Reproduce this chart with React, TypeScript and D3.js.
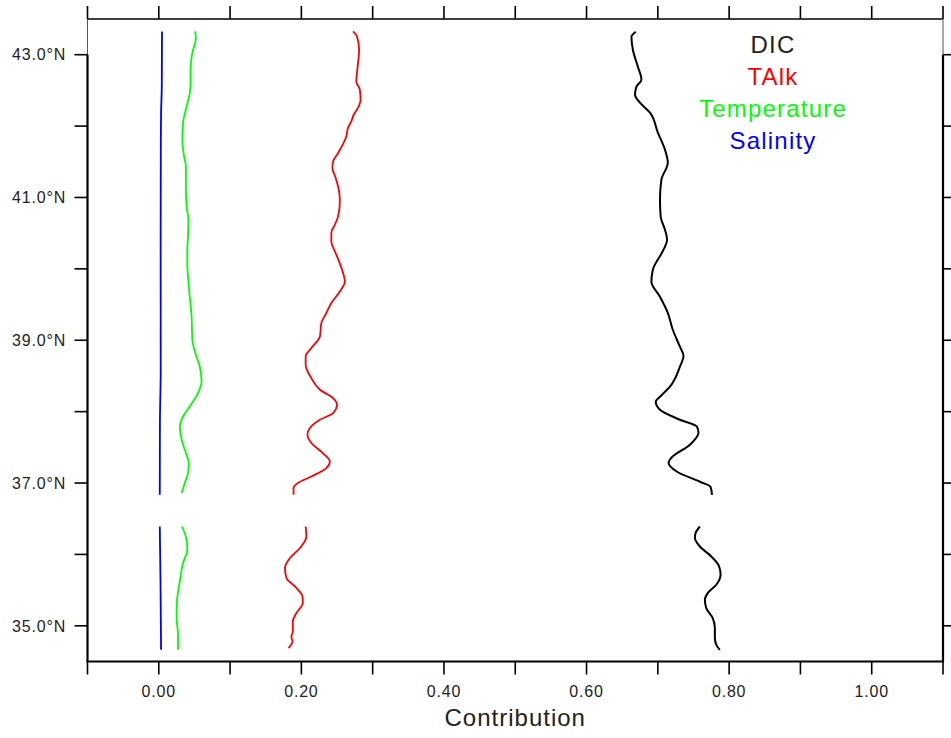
import React from "react";
import * as d3 from "d3";

// latitude (°N) and contribution values; NaN separates the two segments
const dicLat = [43.322, 43.252, 43.07, 42.832, 42.65, 42.552, 42.44, 42.327, 42.187, 41.907, 41.669, 41.487, 41.249, 40.968, 40.73, 40.548, 40.408, 40.268, 39.988, 39.82, 39.61, 39.385, 39.147, 38.909, 38.783, 38.629, 38.349, 38.208, 38.138, 38.026, 37.886, 37.788, 37.704, 37.536, 37.354, 37.284, 37.158, 37.018, 36.947, 36.835,
  NaN,
  36.391, 36.299, 36.229, 36.111, 35.971, 35.831, 35.715, 35.575, 35.458, 35.364, 35.248, 35.108, 34.968, 34.828, 34.734, 34.664];
const dicVal = [0.669, 0.663, 0.665, 0.672, 0.677, 0.67, 0.668, 0.675, 0.689, 0.7, 0.71, 0.714, 0.705, 0.703, 0.704, 0.71, 0.713, 0.708, 0.693, 0.691, 0.703, 0.714, 0.721, 0.731, 0.736, 0.731, 0.717, 0.703, 0.697, 0.703, 0.731, 0.755, 0.757, 0.745, 0.719, 0.715, 0.727, 0.759, 0.774, 0.776,
  NaN,
  0.759, 0.753, 0.752, 0.759, 0.775, 0.786, 0.788, 0.782, 0.77, 0.766, 0.768, 0.777, 0.78, 0.78, 0.782, 0.787];

const talkLat = [43.326, 43.256, 43.07, 42.836, 42.626, 42.51, 42.37, 42.257, 42.159, 42.066, 41.977, 41.855, 41.739, 41.623, 41.505, 41.417, 41.277, 41.109, 40.945, 40.735, 40.618, 40.506, 40.384, 40.268, 40.138, 39.942, 39.824, 39.684, 39.521, 39.381, 39.241, 39.053, 38.891, 38.773, 38.657, 38.47, 38.307, 38.19, 38.096, 37.98, 37.886, 37.77, 37.676, 37.56, 37.42, 37.302, 37.209, 37.092, 36.999, 36.929, 36.835,
  NaN,
  36.391, 36.251, 36.089, 35.949, 35.809, 35.668, 35.551, 35.411, 35.318, 35.178, 35.06, 34.92, 34.85, 34.78, 34.688];
const talkVal = [0.2725, 0.278, 0.281, 0.279, 0.277, 0.282, 0.283, 0.2795, 0.2735, 0.27, 0.2655, 0.263, 0.258, 0.2515, 0.2445, 0.2435, 0.248, 0.2525, 0.254, 0.2515, 0.247, 0.242, 0.242, 0.246, 0.2515, 0.2585, 0.261, 0.254, 0.242, 0.235, 0.228, 0.226, 0.214, 0.206, 0.206, 0.214, 0.226, 0.2445, 0.25, 0.2445, 0.226, 0.212, 0.2085, 0.214, 0.23, 0.24, 0.235, 0.214, 0.195, 0.189, 0.189,
  NaN,
  0.206, 0.207, 0.198, 0.184, 0.177, 0.179, 0.191, 0.2015, 0.202, 0.193, 0.188, 0.188, 0.186, 0.1875, 0.182];

const tempLat = [43.326, 43.234, 43.024, 42.79, 42.604, 42.463, 42.276, 42.043, 41.809, 41.575, 41.435, 41.155, 40.875, 40.688, 40.454, 40.268, 40.082, 39.708, 39.333, 39.007, 38.797, 38.633, 38.423, 38.26, 38.073, 37.932, 37.792, 37.606, 37.42, 37.279, 37.139, 37.001, 36.859,
  NaN,
  36.391, 36.205, 36.065, 35.879, 35.621, 35.341, 35.108, 34.874, 34.664];
const tempVal = [0.051, 0.052, 0.047, 0.0445, 0.0445, 0.0435, 0.039, 0.034, 0.033, 0.0355, 0.038, 0.038, 0.039, 0.0415, 0.041, 0.04, 0.04, 0.0425, 0.046, 0.047, 0.052, 0.0575, 0.06, 0.055, 0.0435, 0.034, 0.0295, 0.032, 0.038, 0.042, 0.041, 0.0365, 0.032,
  NaN,
  0.0325, 0.039, 0.04, 0.034, 0.0295, 0.0255, 0.025, 0.027, 0.027];

const salLat = [43.326, 42.556, 42.187, 41.627, 40.226, 38.6, 37.844, 36.835,
  NaN,
  36.391, 35.621, 34.664];
const salVal = [0.0045, 0.0042, 0.0032, 0.0028, 0.0026, 0.0027, 0.0016, 0.0014,
  NaN,
  0.0014, 0.0024, 0.0032];

const seriesNames = ["DIC", "TAlk", "Temperature", "Salinity"];
const seriesColors = ["#000000", "#ff0000", "#00ff00", "#0000ff"];

const xTicks = [-0.1, 0, 0.1, 0.2, 0.3, 0.4, 0.5, 0.6, 0.7, 0.8, 0.9, 1.0, 1.1];
const xLabels = [0, 0.2, 0.4, 0.6, 0.8, 1.0];
const yTicks = [35, 36, 37, 38, 39, 40, 41, 42, 43];
const yLabels = [35, 37, 39, 41, 43];

const W = 951, H = 738;
const L = 87.5, R = 943, T = 19, B = 661.5;

export default function App() {
  const x = d3.scaleLinear().domain([-0.1, 1.1]).range([L, R]);
  const y = d3.scaleLinear().domain([34.5, 43.5]).range([B, T]);
  const series = [
    { lat: dicLat, val: dicVal },
    { lat: talkLat, val: talkVal },
    { lat: tempLat, val: tempVal },
    { lat: salLat, val: salVal },
  ];
  const line = d3
    .line<[number, number]>()
    .defined((d) => !isNaN(d[0]) && !isNaN(d[1]))
    .x((d) => x(d[1]))
    .y((d) => y(d[0]))
    .curve(d3.curveMonotoneY);

  const font = "'Liberation Sans', Arial, sans-serif";
  const y43 = y(43);

  return (
    <svg width={W} height={H} style={{ position: "absolute", left: 0, top: 0, background: "#fff" }}>
      {/* data lines */}
      {series.map((s, i) => (
        <path
          key={i}
          d={line(s.lat.map((la, j) => [la, s.val[j]] as [number, number])) || ""}
          fill="none"
          stroke={seriesColors[i]}
          strokeWidth={i === 0 ? 2 : 1.8}
        />
      ))}
      {/* frame */}
      <line x1={L} x2={R} y1={T} y2={T} stroke="#000" strokeWidth={1.5} />
      <line x1={L - 1} x2={R + 1} y1={B} y2={B} stroke="#000" strokeWidth={2.2} />
      <line x1={L} x2={L} y1={T} y2={y43} stroke="#555" strokeWidth={1} />
      <line x1={L} x2={L} y1={y43} y2={B} stroke="#000" strokeWidth={2.2} />
      <line x1={R} x2={R} y1={T} y2={y43} stroke="#555" strokeWidth={1} />
      <line x1={R} x2={R} y1={y43} y2={B} stroke="#000" strokeWidth={2.2} />
      {/* x ticks */}
      {xTicks.map((t) => (
        <g key={"xt" + t}>
          <line x1={x(t)} x2={x(t)} y1={B} y2={B + 13} stroke="#000" strokeWidth={1.6} />
          <line x1={x(t)} x2={x(t)} y1={T} y2={T - 13} stroke="#000" strokeWidth={1.6} />
        </g>
      ))}
      {xLabels.map((t) => (
        <text
          key={"xl" + t}
          x={x(t)}
          y={697}
          textAnchor="middle"
          fontFamily={font}
          fontSize={16}
          letterSpacing={0.8}
          fill="#222"
        >
          {d3.format(".2f")(t)}
        </text>
      ))}
      {/* y ticks */}
      {yTicks.map((t) => (
        <g key={"yt" + t}>
          <line x1={L} x2={L - 13} y1={y(t)} y2={y(t)} stroke="#000" strokeWidth={1.6} />
          <line x1={R} x2={R + 10} y1={y(t)} y2={y(t)} stroke="#000" strokeWidth={1.6} />
        </g>
      ))}
      {yLabels.map((t) => (
        <text
          key={"yl" + t}
          x={66}
          y={y(t) + 5.8}
          textAnchor="end"
          fontFamily={font}
          fontSize={16}
          letterSpacing={0.8}
          fill="#222"
        >
          {d3.format(".1f")(t) + "°N"}
        </text>
      ))}
      {/* axis title */}
      <text
        x={(L + R) / 2}
        y={726}
        textAnchor="middle"
        fontFamily={font}
        fontSize={24}
        letterSpacing={1}
        fill="#222"
      >
        Contribution
      </text>
      {/* legend */}
      {seriesNames.map((n, i) => (
        <text
          key={n}
          x={773}
          y={52.5 + i * 32}
          textAnchor="middle"
          fontFamily={font}
          fontSize={24}
          letterSpacing={1.2}
          fill={seriesColors[i] === "#000000" ? "#222" : seriesColors[i]}
        >
          {n}
        </text>
      ))}
    </svg>
  );
}
